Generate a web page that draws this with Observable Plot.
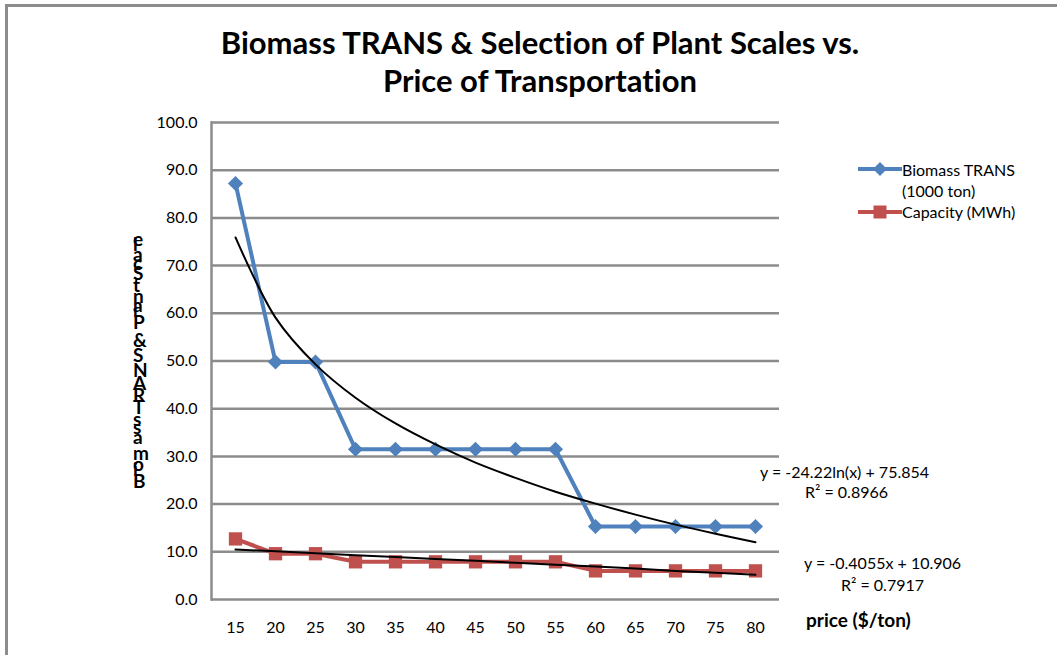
<!DOCTYPE html>
<html>
<head>
<meta charset="utf-8">
<script src="https://cdn.jsdelivr.net/npm/d3@7"></script>
<script src="https://cdn.jsdelivr.net/npm/@observablehq/plot@0.6"></script>
<style>
  html, body { margin: 0; padding: 0; background: #fff; }
  #wrap { position: relative; width: 1057px; height: 655px; overflow: hidden; font-family: Lato, "Open Sans", sans-serif; color: #000; font-variant-ligatures: none; }
  #border { position: absolute; left: 5px; top: 4px; width: 1100px; height: 700px; border-left: 3px solid #8c8c8c; border-top: 3px solid #8c8c8c; }
  .title { position: absolute; left: 0; width: 1080px; text-align: center; font-weight: bold; font-size: 31px; line-height: 38px; }
  .t { position: absolute; font-size: 16px; line-height: 19px; white-space: nowrap; }
  #chart { position: absolute; left: 0; top: 0; }
</style>
</head>
<body>
<div id="wrap">
  <div id="border"></div>
  <div id="chart"></div>
  <div class="title" style="top:23px">Biomass TRANS &amp; Selection of Plant Scales vs.</div>
  <div class="title" style="top:61px">Price of Transportation</div>
  <svg id="legend" style="position:absolute;left:850px;top:155px" width="60" height="70">
    <line x1="8" x2="52" y1="14" y2="14" stroke="#4f81bd" stroke-width="4"/>
    <path d="M30,7 L37,14 L30,21 L23,14 Z" fill="#4f81bd"/>
    <line x1="8" x2="52" y1="57" y2="57" stroke="#c0504d" stroke-width="4"/>
    <rect x="23.5" y="50.5" width="13" height="13" fill="#c0504d"/>
  </svg>
  <div class="t" style="left:902px;top:160px">Biomass TRANS</div>
  <div class="t" style="left:902px;top:181px">(1000 ton)</div>
  <div class="t" style="left:902px;top:202px">Capacity (MWh)</div>
  <div class="t" style="left:760px;top:462px">y = -24.22ln(x) + 75.854</div>
  <div class="t" style="left:805px;top:482px">R² = 0.8966</div>
  <div class="t" style="left:804px;top:553px">y = -0.4055x + 10.906</div>
  <div class="t" style="left:841px;top:575px">R² = 0.7917</div>
  <div class="t" style="left:806px;top:608px;font-weight:bold;font-size:19px;line-height:23px">price ($/ton)</div>
  <svg id="ylab" style="position:absolute;left:0;top:0" width="200" height="655"></svg>
</div>
<script>
const prices = [15, 20, 25, 30, 35, 40, 45, 50, 55, 60, 65, 70, 75, 80];
const biomass = [87.2, 49.8, 49.8, 31.5, 31.5, 31.5, 31.5, 31.5, 31.5, 15.3, 15.3, 15.3, 15.3, 15.3];
const capacity = [12.7, 9.6, 9.6, 7.9, 7.9, 7.9, 7.9, 7.9, 7.9, 6.0, 6.0, 6.0, 6.0, 6.0];
const biomassTrend = [75.9, 59.1, 49.3, 42.3, 36.9, 32.5, 28.7, 25.5, 22.6, 20.1, 17.8, 15.7, 13.8, 12.0];
const capacityTrend = [10.5, 10.1, 9.7, 9.3, 8.9, 8.5, 8.1, 7.7, 7.3, 6.9, 6.5, 6.0, 5.6, 5.2];
const yTicks = [0, 10, 20, 30, 40, 50, 60, 70, 80, 90, 100];
const yLabel = "Biomass TRANS & Plant Scale";

const rows = (vals) => prices.map((p, i) => ({price: p, value: vals[i]}));
const bio = rows(biomass), cap = rows(capacity), bioT = rows(biomassTrend), capT = rows(capacityTrend);

const chart = Plot.plot({
  width: 1057,
  height: 655,
  marginLeft: 211,
  marginRight: 278,
  marginTop: 122,
  marginBottom: 56,
  style: {fontFamily: "Lato, 'Open Sans', sans-serif", fontSize: "16px", color: "#000", background: "transparent"},
  x: {type: "point", domain: prices, padding: 0.5, tickSize: 0, tickPadding: 22, label: null},
  y: {domain: [0, 100], ticks: yTicks, tickFormat: d3.format(".1f"), tickSize: 0, tickPadding: 14, label: null},
  marks: [
    Plot.ruleY(yTicks, {stroke: "#8c8c8c", strokeWidth: 2.5}),
    Plot.frame({anchor: "left", stroke: "#8c8c8c", strokeWidth: 2.5}),
    Plot.line(bio, {x: "price", y: "value", stroke: "#4f81bd", strokeWidth: 4}),
    Plot.line(cap, {x: "price", y: "value", stroke: "#c0504d", strokeWidth: 4}),
    Plot.dot(bio, {x: "price", y: "value", symbol: "diamond2", r: 6.8, fill: "#4f81bd", stroke: "none"}),
    Plot.dot(cap, {x: "price", y: "value", symbol: "square", r: 7.5, fill: "#c0504d", stroke: "none"}),
    Plot.line(bioT, {x: "price", y: "value", stroke: "#000", strokeWidth: 2, curve: "catmull-rom"}),
    Plot.line(capT, {x: "price", y: "value", stroke: "#000", strokeWidth: 2})
  ]
});
document.getElementById("chart").appendChild(chart);

// y-axis title: glyphs stacked upright along a rotated baseline
const ylab = d3.select("#ylab");
ylab.append("text")
  .attr("transform", "translate(133,488) rotate(-90)")
  .attr("rotate", 90)
  .attr("font-family", "Lato, 'Open Sans', sans-serif")
  .attr("font-weight", "bold")
  .attr("font-size", 19)
  .text(yLabel);
</script>
</body>
</html>
